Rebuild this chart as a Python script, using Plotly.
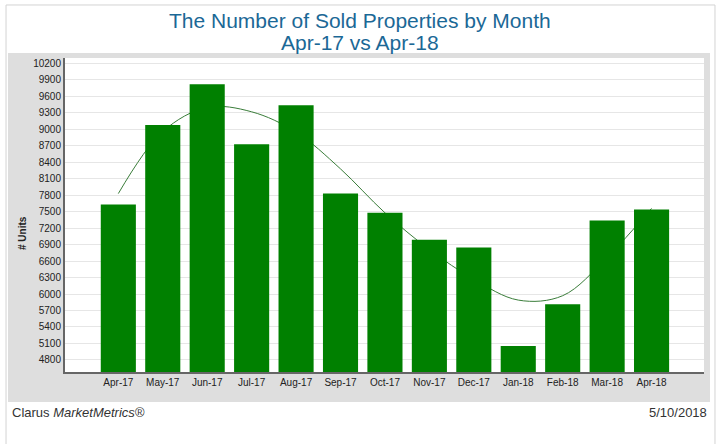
import plotly.graph_objects as go

months = ["Apr-17", "May-17", "Jun-17", "Jul-17", "Aug-17", "Sep-17", "Oct-17",
          "Nov-17", "Dec-17", "Jan-18", "Feb-18", "Mar-18", "Apr-18"]
units_sold = [7630, 9080, 9820, 8730, 9440, 7830, 7480, 6990, 6850, 5055, 5815, 7340, 7540]
trend = [7830, 8960, 9400, 9320, 8950, 8280, 7480, 6810, 6270, 5890, 5970, 6670, 7560]
y_ticks = list(range(4800, 10201, 300))

X_RANGE = [-1.2, 13.18]
Y_RANGE = [4580, 10300]

fig = go.Figure()

# trend line on the base axes (drawn underneath)
fig.add_trace(go.Scatter(
    x=months, y=trend, mode="lines", xaxis="x", yaxis="y",
    line=dict(color="#3a7d3a", width=1, shape="spline", smoothing=1.0),
    hoverinfo="skip", showlegend=False,
))
# bars on overlaying axes (drawn on top of the line)
fig.add_trace(go.Bar(
    x=months, y=units_sold, xaxis="x2", yaxis="y2",
    marker=dict(color="#008000", line=dict(width=0)),
    width=0.79, showlegend=False,
))

fig.update_layout(
    width=721, height=444,
    margin=dict(l=65, r=17, t=58, b=72),
    paper_bgcolor="white", plot_bgcolor="white",
    font=dict(family="Liberation Sans, Arial, sans-serif", size=10, color="#222222"),
    showlegend=False,
    shapes=[
        dict(type="rect", xref="paper", yref="paper", x0=-0.0923, x1=1.0172, y0=-0.26, y1=1.1688,
             line=dict(color="#d3d3d3", width=1), fillcolor="white", layer="below"),
        dict(type="rect", xref="paper", yref="paper", x0=-0.0892, x1=1.0094, y0=-0.0955, y1=1.0159,
             line=dict(width=0), fillcolor="#dedede", layer="below"),
        dict(type="rect", xref="paper", yref="paper", x0=0, x1=1, y0=0, y1=1,
             line=dict(width=0), fillcolor="white", layer="below"),
    ],
    annotations=[
        dict(text="The Number of Sold Properties by Month", xref="paper", yref="paper",
             x=(360 - 65) / 639, y=(372 - 21) / 314, xanchor="center", yanchor="middle",
             showarrow=False, font=dict(size=21, color="#1b6896")),
        dict(text="Apr-17 vs Apr-18", xref="paper", yref="paper",
             x=(360 - 65) / 639, y=(372 - 42) / 314, xanchor="center", yanchor="middle",
             showarrow=False, font=dict(size=21, color="#1b6896")),
        dict(text="<b># Units</b>", xref="paper", yref="paper", textangle=-90,
             x=(22 - 65) / 639, y=(372 - 233) / 314, xanchor="center", yanchor="middle",
             showarrow=False, font=dict(size=10, color="#222222")),
        dict(text="Clarus <i>MarketMetrics®</i>", xref="paper", yref="paper",
             x=(10 - 65) / 639, y=(372 - 412) / 314, xanchor="left", yanchor="middle",
             showarrow=False, font=dict(size=13, color="#333333")),
        dict(text="5/10/2018", xref="paper", yref="paper",
             x=(709 - 65) / 639, y=(372 - 412) / 314, xanchor="right", yanchor="middle",
             showarrow=False, font=dict(size=13, color="#333333")),
    ],
    xaxis=dict(
        type="category", range=X_RANGE,
        showline=True, linecolor="#666666", linewidth=2,
        showgrid=False, ticks="", tickfont=dict(size=10, color="#222222"),
        fixedrange=True,
    ),
    yaxis=dict(
        range=Y_RANGE, tickvals=y_ticks, ticktext=[str(v) for v in y_ticks],
        showline=True, linecolor="#666666", linewidth=2,
        showgrid=True, gridcolor="#e6e6e6", gridwidth=1, zeroline=False,
        ticks="", tickfont=dict(size=10, color="#222222"), fixedrange=True,
    ),
    xaxis2=dict(
        type="category", range=X_RANGE, overlaying="x", matches="x",
        showline=False, showgrid=False, showticklabels=False, ticks="", fixedrange=True,
    ),
    yaxis2=dict(
        range=Y_RANGE, overlaying="y", showline=False, showgrid=False,
        showticklabels=False, ticks="", zeroline=False, fixedrange=True,
    ),
)

fig.write_html("out.html", config={"displayModeBar": False},
               post_script="document.body.style.margin='0px';")
